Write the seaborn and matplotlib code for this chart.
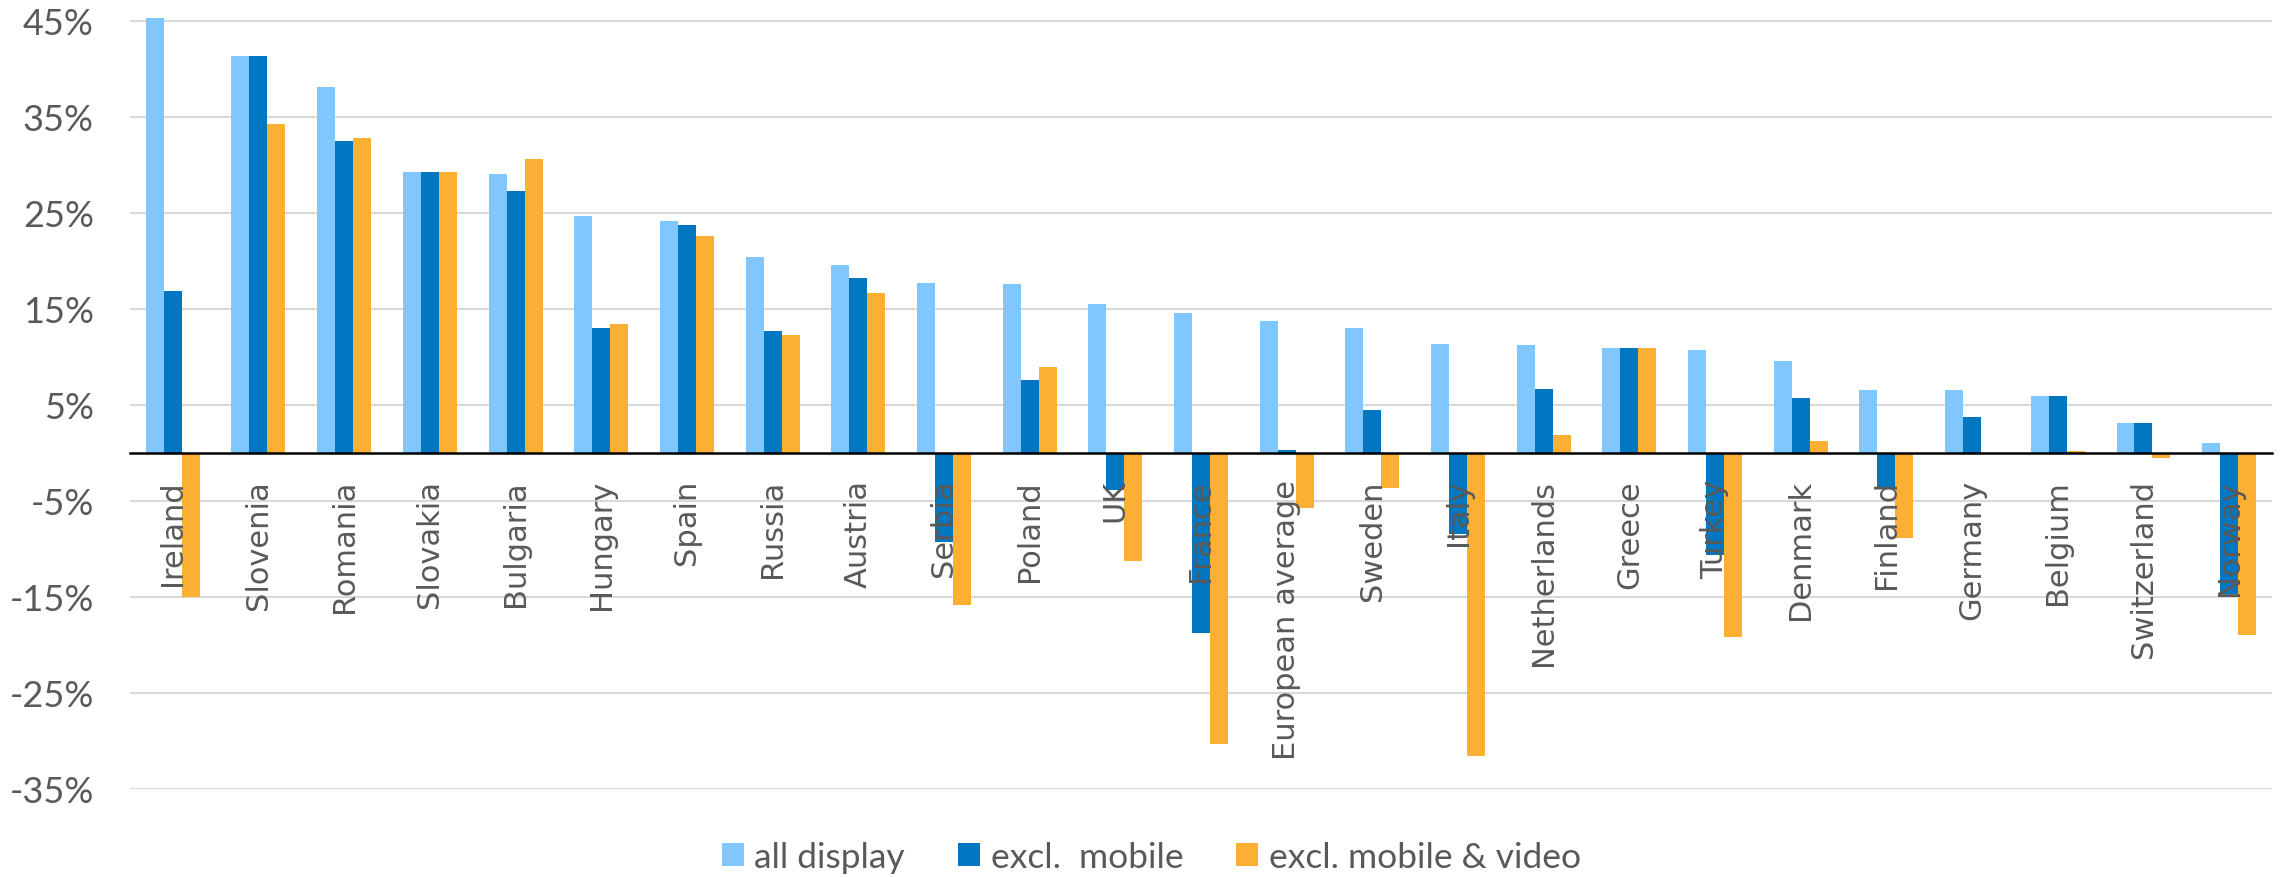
import matplotlib
matplotlib.use("Agg")
import matplotlib.pyplot as plt
from matplotlib.ticker import FixedLocator, FuncFormatter
import pandas as pd
import seaborn as sns

# Growth by country, three measurement scopes (percent)
countries = ["Ireland", "Slovenia", "Romania", "Slovakia", "Bulgaria", "Hungary",
             "Spain", "Russia", "Austria", "Serbia", "Poland", "UK", "France",
             "European average", "Sweden", "Italy", "Netherlands", "Greece",
             "Turkey", "Denmark", "Finland", "Germany", "Belgium", "Switzerland",
             "Norway"]
all_display = [45.3, 41.3, 38.1, 29.2, 29.0, 24.7, 24.1, 20.4, 19.6, 17.7, 17.6,
               15.5, 14.6, 13.7, 13.0, 11.3, 11.2, 10.9, 10.7, 9.6, 6.5, 6.5,
               5.9, 3.1, 1.0]
excl_mobile = [16.8, 41.3, 32.5, 29.2, 27.3, 13.0, 23.7, 12.7, 18.2, -9.3, 7.6,
               -3.9, -18.8, 0.3, 4.4, -8.5, 6.6, 10.9, -10.7, 5.7, -3.7, 3.7,
               5.9, 3.1, -14.7]
excl_mobile_video = [-15.0, 34.2, 32.8, 29.2, 30.6, 13.4, 22.6, 12.3, 16.6, -15.9,
                     8.9, -11.3, -30.3, -5.8, -3.7, -31.6, 1.8, 10.9, -19.2, 1.2,
                     -8.9, 0.0, 0.2, -0.6, -19.0]
series_names = ["all display", "excl.  mobile", "excl. mobile & video"]
series_colors = ["#80C6FF", "#0077C0", "#FBB034"]
y_ticks = [45, 35, 25, 15, 5, -5, -15, -25, -35]

df = pd.DataFrame({"country": countries,
                   series_names[0]: all_display,
                   series_names[1]: excl_mobile,
                   series_names[2]: excl_mobile_video})
long_df = df.melt(id_vars="country", var_name="series", value_name="value")

sns.set_theme(style="white")
plt.rcParams["font.family"] = ["Lato", "DejaVu Sans"]
text_grey = "#595959"

fig = plt.figure(figsize=(22.8, 8.78), dpi=100)
ax = fig.add_axes([0.057, 0.1006, 0.9395, 0.8994])

sns.barplot(data=long_df, x="country", y="value", hue="series",
            order=countries, hue_order=series_names, palette=series_colors,
            saturation=1, width=0.63, linewidth=0, errorbar=None, ax=ax,
            zorder=3)

ax.set_xlim(-0.5, len(countries) - 0.5)
ax.set_ylim(-35, 47.26)
ax.yaxis.set_major_locator(FixedLocator(y_ticks))
ax.yaxis.set_major_formatter(FuncFormatter(lambda v, _: f"{v:.0f}%"))
ax.grid(axis="y", color="#D9D9D9", linewidth=1.5, zorder=0)
ax.grid(axis="x", visible=False)
ax.set_axisbelow(True)

for side in ["top", "right", "left"]:
    ax.spines[side].set_visible(False)
ax.spines["bottom"].set_position(("data", 0))
ax.spines["bottom"].set_color("black")
ax.spines["bottom"].set_linewidth(1.8)
ax.spines["bottom"].set_zorder(5)

# category names sit on top of the bars, next to the zero line
ax.xaxis.set_zorder(10)

ax.tick_params(axis="y", length=0, pad=26, labelsize=26, labelcolor=text_grey)
ax.tick_params(axis="x", length=0, pad=19, labelcolor=text_grey)
for lbl in ax.get_xticklabels():
    lbl.set_rotation(90)
    lbl.set_family("DejaVu Sans")
    lbl.set_fontsize(22)
    lbl.set_va("top")
    lbl.set_ha("center")
ax.set_xlabel("")
ax.set_ylabel("")

handles, labels = ax.get_legend_handles_labels()
ax.get_legend().remove()
fig.legend(handles, labels, loc="center", bbox_to_anchor=(0.505, 0.0228),
           ncol=3, frameon=False, fontsize=25.5, labelcolor=text_grey,
           handlelength=0.62, handleheight=0.62, handletextpad=0.3,
           columnspacing=1.5, borderaxespad=0, borderpad=0)

fig.savefig("out.png", dpi=100, facecolor="white")
